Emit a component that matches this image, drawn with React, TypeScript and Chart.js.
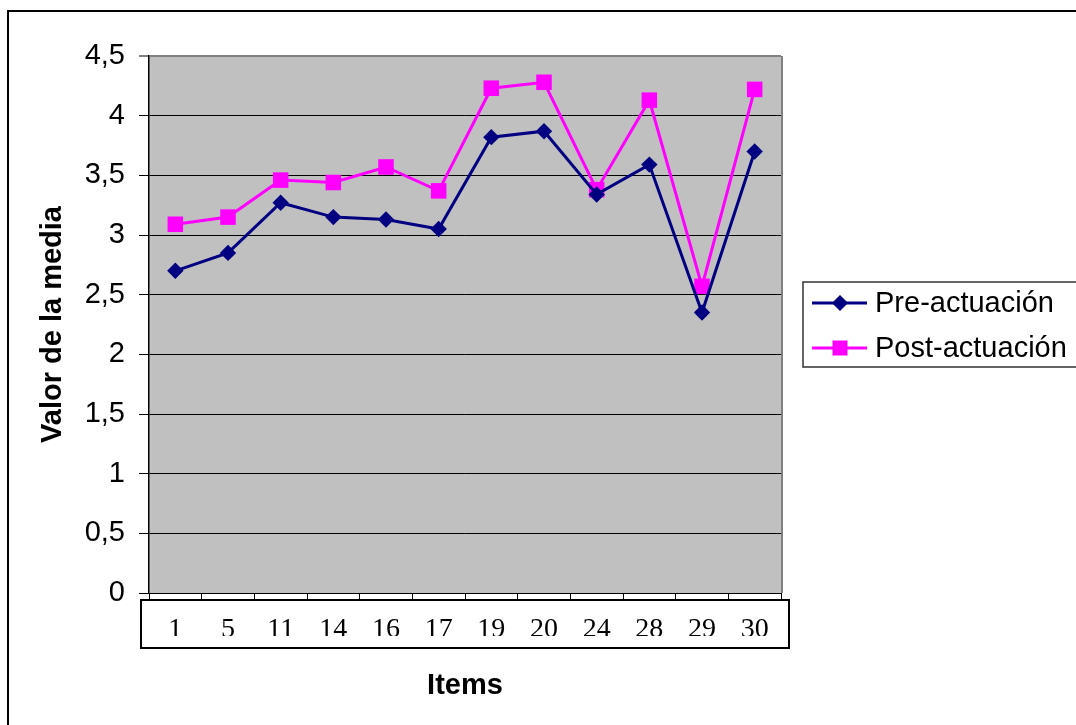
import { useEffect, useRef } from 'react';
import { Chart, registerables } from 'chart.js';

Chart.register(...registerables);

// Items on the horizontal axis
const items = ['1', '5', '11', '14', '16', '17', '19', '20', '24', '28', '29', '30'];

// Mean values per item
const preActuacion = [2.7, 2.85, 3.27, 3.15, 3.13, 3.05, 3.82, 3.87, 3.34, 3.59, 2.35, 3.7];
const postActuacion = [3.09, 3.15, 3.46, 3.44, 3.57, 3.37, 4.23, 4.28, 3.38, 4.13, 2.57, 4.22];

const yMin = 0;
const yMax = 4.5;
const yStep = 0.5;

const seriesNames = ['Pre-actuación', 'Post-actuación'];
const seriesColors = ['#000080', '#FF00FF'];

const SANS = '"Liberation Sans", Arial, Helvetica, sans-serif';
const SERIF = '"Liberation Serif", "Times New Roman", Times, serif';

const W = 1076;
const H = 725;

const excelFrame = {
  id: 'excelFrame',
  beforeDraw(chart: any) {
    const { ctx, chartArea: a } = chart;
    ctx.save();
    ctx.fillStyle = '#C0C0C0';
    ctx.fillRect(a.left, a.top, a.right - a.left, a.bottom - a.top);
    ctx.restore();
  },
  beforeDatasetsDraw(chart: any) {
    const { ctx, chartArea: a } = chart;
    ctx.save();
    ctx.strokeStyle = '#808080';
    ctx.lineWidth = 2;
    ctx.beginPath();
    ctx.moveTo(a.right + 1, a.top);
    ctx.lineTo(a.right + 1, a.bottom);
    ctx.stroke();
    ctx.restore();
  },
  afterDraw(chart: any) {
    const { ctx, chartArea: a } = chart;
    const xs = chart.scales.x;
    ctx.save();

    // boxed row holding the item labels (text cut at the lower edge)
    const boxL = a.left - 8;
    const boxR = a.right + 8;
    const boxT = xs.top + 7;
    const boxB = xs.top + 55;
    const cutY = xs.top + 43;
    ctx.fillStyle = '#ffffff';
    ctx.fillRect(boxL + 1, cutY, boxR - boxL - 2, boxB - cutY - 1);
    ctx.strokeStyle = '#000';
    ctx.lineWidth = 2;
    ctx.strokeRect(boxL, boxT, boxR - boxL, boxB - boxT);

    // legend
    const lgL = 803;
    const lgT = 282;
    const lgB = 367;
    ctx.strokeStyle = '#333';
    ctx.lineWidth = 1.5;
    ctx.strokeRect(lgL, lgT, W + 20 - lgL, lgB - lgT);
    const rows = [303, 348];
    chart.data.datasets.forEach((ds: any, i: number) => {
      const y = rows[i];
      ctx.strokeStyle = ds.borderColor;
      ctx.lineWidth = 3;
      ctx.beginPath();
      ctx.moveTo(812, y);
      ctx.lineTo(867, y);
      ctx.stroke();
      ctx.fillStyle = ds.borderColor;
      const cx = 840;
      if (ds.pointStyle === 'rectRot') {
        ctx.beginPath();
        ctx.moveTo(cx - 8, y);
        ctx.lineTo(cx, y - 8);
        ctx.lineTo(cx + 8, y);
        ctx.lineTo(cx, y + 8);
        ctx.closePath();
        ctx.fill();
      } else {
        ctx.fillRect(cx - 7.5, y - 7.5, 15, 15);
      }
      ctx.fillStyle = '#000';
      ctx.font = `29px ${SANS}`;
      ctx.textAlign = 'left';
      ctx.textBaseline = 'middle';
      ctx.fillText(ds.label, 875, y + 1);
    });

    // outer chart border
    ctx.strokeStyle = '#000';
    ctx.lineWidth = 2;
    ctx.beginPath();
    ctx.moveTo(8, H + 5);
    ctx.lineTo(8, 11);
    ctx.lineTo(W + 5, 11);
    ctx.stroke();

    ctx.restore();
  },
};

export default function App() {
  const canvasRef = useRef<HTMLCanvasElement | null>(null);

  useEffect(() => {
    if (!canvasRef.current) return;
    const chart = new Chart(canvasRef.current, {
      type: 'line',
      data: {
        labels: items,
        datasets: [
          {
            label: seriesNames[0],
            data: preActuacion,
            borderColor: seriesColors[0],
            backgroundColor: seriesColors[0],
            borderWidth: 3,
            pointStyle: 'rectRot',
            pointRadius: 8.2,
            pointBorderWidth: 0,
            tension: 0,
          },
          {
            label: seriesNames[1],
            data: postActuacion,
            borderColor: seriesColors[1],
            backgroundColor: seriesColors[1],
            borderWidth: 3,
            pointStyle: 'rect',
            pointRadius: 11,
            pointBorderWidth: 0,
            tension: 0,
          },
        ],
      },
      options: {
        responsive: false,
        animation: false,
        layout: { padding: { top: 56, right: 295, bottom: 0, left: 0 } },
        plugins: {
          legend: { display: false },
          tooltip: { enabled: false },
        },
        scales: {
          x: {
            type: 'category',
            offset: true,
            afterFit(scale: any) {
              scale.height = 132;
            },
            grid: {
              display: true,
              offset: true,
              drawOnChartArea: false,
              drawTicks: true,
              tickLength: 7,
              tickColor: '#000',
              tickWidth: 1,
            },
            border: { display: true, color: '#000', width: 1 },
            ticks: {
              color: '#000',
              font: { family: SERIF, size: 28 },
              padding: 13,
              maxRotation: 0,
              autoSkip: false,
            },
            title: {
              display: true,
              text: 'Items',
              color: '#000',
              font: { family: SANS, size: 29, weight: 'bold' },
              padding: { top: 0, bottom: 21.6 },
            },
          },
          y: {
            min: yMin,
            max: yMax,
            afterFit(scale: any) {
              scale.width = 149;
            },
            grid: {
              color: (c: any) => (c.tick && c.tick.value === yMax ? '#808080' : '#000'),
              lineWidth: (c: any) => (c.tick && c.tick.value === yMax ? 2 : 1),
              drawTicks: true,
              tickLength: 10,
              tickColor: '#000',
              tickWidth: 1,
            },
            border: { display: true, color: '#000', width: 1.5 },
            ticks: {
              stepSize: yStep,
              color: '#000',
              font: { family: SANS, size: 29 },
              padding: 14,
              callback: (v: any) => String(Math.round(Number(v) * 10) / 10).replace('.', ','),
            },
            title: {
              display: true,
              text: 'Valor de la media',
              color: '#000',
              font: { family: SANS, size: 29, weight: 'bold' },
              padding: { top: 35.6, bottom: 0 },
            },
          },
        },
      },
      plugins: [excelFrame],
    });
    return () => chart.destroy();
  }, []);

  return (
    <div style={{ position: 'fixed', left: 0, top: 0, width: W, height: H, background: '#fff' }}>
      <canvas ref={canvasRef} width={W} height={H} style={{ display: 'block', width: W, height: H }} />
    </div>
  );
}
